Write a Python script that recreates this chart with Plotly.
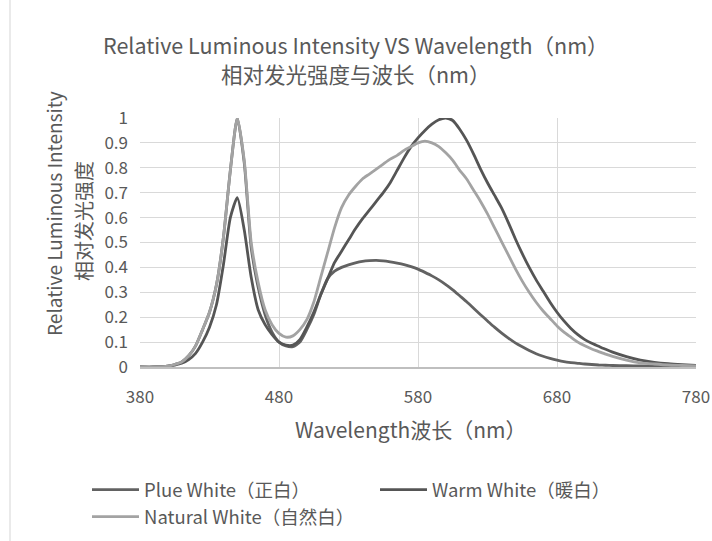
import plotly.graph_objects as go

wavelength = [380, 390, 400, 405, 410, 415, 420, 425, 430, 435, 440, 445, 450, 455, 460, 465, 470, 475,
              480, 485, 490, 495, 500, 505, 510, 515, 520, 525, 530, 535, 540, 545, 550, 555, 560, 565,
              570, 575, 580, 585, 590, 595, 600, 605, 610, 615, 620, 625, 630, 635, 640, 645, 650, 655,
              660, 665, 670, 675, 680, 685, 690, 695, 700, 705, 710, 715, 720, 730, 740, 750, 760, 770, 780]

pure_white = [0, 0, 0.003, 0.01, 0.02, 0.045, 0.085, 0.15, 0.22, 0.33, 0.52, 0.79, 1.0, 0.82, 0.48, 0.32,
              0.21, 0.14, 0.10, 0.085, 0.082, 0.10, 0.15, 0.21, 0.29, 0.355, 0.385, 0.40, 0.41, 0.418,
              0.424, 0.427, 0.428, 0.426, 0.422, 0.417, 0.411, 0.403, 0.393, 0.38, 0.366, 0.35, 0.331,
              0.31, 0.286, 0.262, 0.236, 0.21, 0.185, 0.16, 0.137, 0.116, 0.097, 0.081, 0.066, 0.053,
              0.043, 0.035, 0.028, 0.022, 0.018, 0.015, 0.012, 0.01, 0.008, 0.007, 0.006, 0.005, 0.004,
              0.003, 0.003, 0.002, 0.002]

warm_white = [0, 0, 0.003, 0.008, 0.015, 0.03, 0.055, 0.1, 0.16, 0.25, 0.41, 0.6, 0.68, 0.55, 0.36, 0.23,
              0.17, 0.13, 0.10, 0.088, 0.088, 0.11, 0.16, 0.22, 0.29, 0.355, 0.42, 0.465, 0.51, 0.555,
              0.595, 0.63, 0.665, 0.70, 0.74, 0.79, 0.84, 0.885, 0.92, 0.95, 0.975, 0.993, 1.0, 0.99,
              0.955, 0.91, 0.855, 0.795, 0.74, 0.69, 0.64, 0.58, 0.515, 0.455, 0.40, 0.35, 0.305, 0.26,
              0.22, 0.185, 0.155, 0.13, 0.11, 0.095, 0.083, 0.071, 0.06, 0.042, 0.028, 0.019, 0.013,
              0.009, 0.006]

natural_white = [0, 0, 0.003, 0.01, 0.02, 0.045, 0.085, 0.15, 0.22, 0.33, 0.52, 0.79, 1.0, 0.83, 0.5,
                 0.34, 0.23, 0.17, 0.135, 0.12, 0.125, 0.15, 0.19, 0.26, 0.36, 0.46, 0.56, 0.64, 0.69,
                 0.725, 0.755, 0.775, 0.795, 0.815, 0.835, 0.85, 0.87, 0.885, 0.9, 0.907, 0.9, 0.885,
                 0.86, 0.83, 0.79, 0.755, 0.71, 0.665, 0.615, 0.56, 0.505, 0.45, 0.395, 0.345, 0.30,
                 0.26, 0.225, 0.195, 0.165, 0.14, 0.12, 0.10, 0.085, 0.072, 0.062, 0.052, 0.043, 0.028,
                 0.017, 0.012, 0.008, 0.006, 0.004]

series_names = ["Plue White（正白）", "Warm White（暖白）", "Natural White（自然白）"]
series_values = [pure_white, warm_white, natural_white]
series_colors = ["#626262", "#555555", "#a3a3a3"]

title_lines = ["Relative Luminous Intensity VS Wavelength（nm）", "相对发光强度与波长（nm）"]
y_title_lines = ["Relative Luminous Intensity", "相对发光强度"]
x_title = "Wavelength波长（nm）"

FONT = "Noto Sans CJK SC"
TXT = "#595959"

# plot area geometry (pixels)
L, R, T, B = 140, 16, 118, 174
W, H = 712, 541
PW, PH = W - L - R, H - T - B


def px(x):
    return (x - L) / PW


def py(y):
    return (H - B - y) / PH


fig = go.Figure()
for name, vals, col in zip(series_names, series_values, series_colors):
    fig.add_trace(go.Scatter(x=wavelength, y=vals, mode="lines", name=name,
                             line=dict(color=col, width=2.8, shape="spline", smoothing=0.6),
                             cliponaxis=False))

fig.update_layout(
    width=W, height=H,
    margin=dict(l=L, r=R, t=T, b=B, autoexpand=False),
    paper_bgcolor="white", plot_bgcolor="white",
    font=dict(family=FONT, color=TXT, size=17),
    showlegend=True,
    legend=dict(orientation="h", x=px(87), xanchor="left", y=py(471), yanchor="top",
                entrywidth=226, entrywidthmode="pixels", font=dict(size=18.5, color=TXT, family=FONT),
                itemwidth=47, bgcolor="rgba(0,0,0,0)"),
    xaxis=dict(range=[380, 780], tick0=380, dtick=100, showgrid=True, gridcolor="#d9d9d9",
               gridwidth=1, showline=True, linecolor="#bfbfbf", linewidth=1.5, zeroline=False,
               ticks="", tickfont=dict(size=17, color=TXT), ticklabelstandoff=14),
    yaxis=dict(range=[0, 1], tick0=0, dtick=0.1, showgrid=True, gridcolor="#d9d9d9", gridwidth=1,
               showline=False, zeroline=False, ticks="", tickfont=dict(size=17, color=TXT),
               ticklabelstandoff=11),
)

# chart title (two lines)
fig.add_annotation(text=title_lines[0], xref="paper", yref="paper", x=px(356), y=py(45),
                   showarrow=False, xanchor="center", yanchor="middle",
                   font=dict(size=21.5, color=TXT, family=FONT))
fig.add_annotation(text=title_lines[1], xref="paper", yref="paper", x=px(356), y=py(73),
                   showarrow=False, xanchor="center", yanchor="middle",
                   font=dict(size=21.5, color=TXT, family=FONT))

# y-axis title (two rotated lines)
fig.add_annotation(text=y_title_lines[0], xref="paper", yref="paper",
                   x=px(53), y=py(214), textangle=-90, showarrow=False,
                   font=dict(size=19, color=TXT, family=FONT), xanchor="center", yanchor="middle")
fig.add_annotation(text=y_title_lines[1], xref="paper", yref="paper",
                   x=px(83), y=py(221), textangle=-90, showarrow=False,
                   font=dict(size=20, color=TXT, family=FONT), xanchor="center", yanchor="middle")

# x-axis title
fig.add_annotation(text=x_title, xref="paper", yref="paper",
                   x=px(411), y=py(429), showarrow=False,
                   font=dict(size=21, color=TXT, family=FONT), xanchor="center", yanchor="middle")

# faint chart-area border on the left
fig.add_shape(type="line", xref="paper", yref="paper",
              x0=px(10), x1=px(10), y0=py(541), y1=py(0),
              line=dict(color="#e3e3e3", width=1.5))

fig.write_html("out.html")
